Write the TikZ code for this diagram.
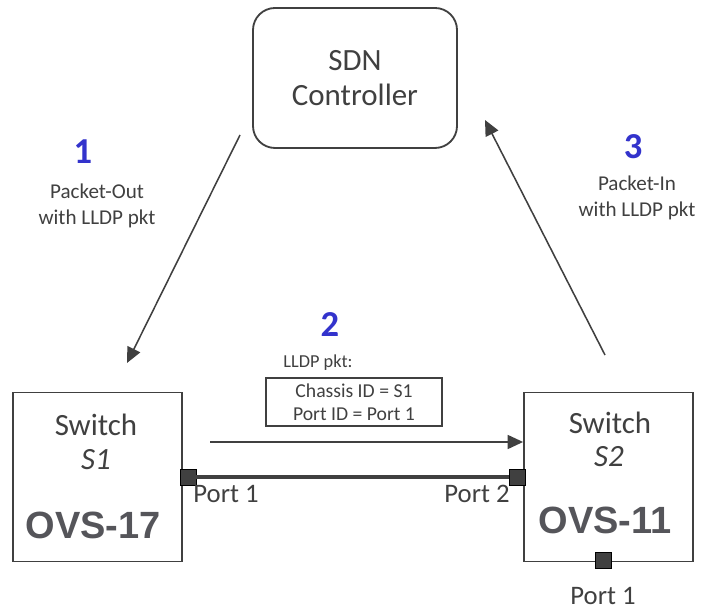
\documentclass[tikz,border=0pt]{standalone}
\usepackage{fontspec}
\setmainfont{Carlito}
\newfontfamily\arialfont{Liberation Sans}
\usepackage{tikz}
\usetikzlibrary{arrows.meta, positioning, calc}
\definecolor{darkgray}{RGB}{64,64,64}
\definecolor{stepblue}{RGB}{51,51,204}
\definecolor{ovsgray}{RGB}{85,85,90}

\tikzset{
  box/.style={draw=darkgray, line width=1.3pt, rectangle, minimum width=4.225cm, minimum height=4.225cm},
  port/.style={draw=black, fill=darkgray, line width=0.6pt, rectangle, minimum size=0.4cm, inner sep=0pt},
  msg/.style={->, >={Triangle[length=11pt, width=10pt]}, line width=1.1pt, draw=darkgray},
  txt/.style={text=darkgray, inner sep=1pt, align=center},
  stepnum/.style={text=stepblue, font=\fontsize{26}{28}\selectfont\bfseries},
}

\begin{document}
\begin{tikzpicture}
\useasboundingbox (0,0) rectangle (17.85,15.25);

% SDN controller
\node[draw=darkgray, line width=1.3pt, rounded corners=0.55cm, minimum width=5.1cm, minimum height=3.5cm,
      txt, font=\fontsize{22}{25}\selectfont] (ctrl) at (8.875, 13.3) {SDN\\Controller};

% switches
\node[box] (s1) at (2.4375, 3.325) {};
\node[box] (s2) at (15.2125, 3.325) {};
\node[txt, font=\fontsize{22}{25}\selectfont] (s1name) at (2.4, 4.625) {Switch};
\node[txt, font=\fontsize{22}{25}\selectfont\itshape] (s1id) at (2.4, 3.75) {S1};
\node[text=ovsgray, font=\arialfont\fontsize{27}{29}\selectfont\bfseries] (s1ovs) at (2.325, 2.125) {OVS-17};
\node[txt, font=\fontsize{22}{25}\selectfont] (s2name) at (15.25, 4.675) {Switch};
\node[txt, font=\fontsize{22}{25}\selectfont\itshape] (s2id) at (15.225, 3.825) {S2};
\node[text=ovsgray, font=\arialfont\fontsize{27}{29}\selectfont\bfseries] (s2ovs) at (15.125, 2.25) {OVS-11};

% ports and link
\node[port] (s1p1) at (4.7, 3.325) {};
\node[port] (s2p2) at (12.925, 3.325) {};
\node[port] (s2p1) at (15.075, 1.25) {};
\draw[darkgray, line width=2.2pt] (s1p1) -- (s2p2);
\node[txt, font=\fontsize{19}{22}\selectfont] (lblp1) at (5.65, 2.9) {Port 1};
\node[txt, font=\fontsize{19}{22}\selectfont] (lblp2) at (11.925, 2.9) {Port 2};
\node[txt, font=\fontsize{19}{22}\selectfont] (lbls2p1) at (15.075, 0.35) {Port 1};

% 1: packet-out
\coordinate (outstart) at (6.0, 11.875);
\coordinate (outend) at (3.175, 6.175);
\draw[msg] (outstart) -- (outend);
\node[stepnum] (num1) at (2.075, 11.45) {1};
\node[txt, font=\fontsize{15}{18}\selectfont] (outlbl) at (2.425, 10.1) {Packet-Out\\[1pt]with LLDP pkt};

% 2: LLDP between switches
\coordinate (lldpstart) at (5.25, 4.2);
\draw[msg] (lldpstart) -- (lldpstart -| s2.west);
\node[stepnum] (num2) at (8.25, 7.125) {2};
\node[txt, font=\fontsize{13}{15}\selectfont] (lldphead) at (7.95, 6.175) {LLDP pkt:};
\node[draw=darkgray, line width=0.9pt, minimum width=4.4cm, minimum height=1.2cm, txt,
      font=\fontsize{14}{16}\selectfont] (lldpbox) at (8.85, 5.2) {Chassis ID = S1\\Port ID = Port 1};

% 3: packet-in
\coordinate (instart) at (15.125, 6.375);
\coordinate (inend) at (12.125, 12.25);
\draw[msg] (instart) -- (inend);
\node[stepnum] (num3) at (15.825, 11.575) {3};
\node[txt, font=\fontsize{15}{18}\selectfont] (inlbl) at (15.925, 10.3) {Packet-In\\[1pt]with LLDP pkt};
\end{tikzpicture}
\end{document}
